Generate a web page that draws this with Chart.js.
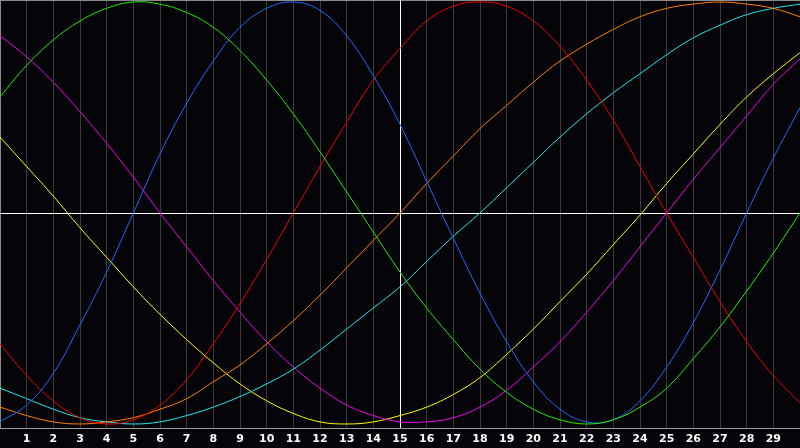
<!DOCTYPE html>
<html>
<head>
<meta charset="utf-8">
<script src="https://cdn.jsdelivr.net/npm/chart.js@4/dist/chart.umd.min.js"></script>
<style>
  html, body { margin: 0; padding: 0; background: #040408; }
  #wrap { width: 800px; height: 448px; position: relative; }
</style>
</head>
<body>
<div id="wrap"><canvas id="c" width="800" height="448"></canvas></div>
<script>
const xValues = [0,1,2,3,4,5,6,7,8,9,10,11,12,13,14,15,16,17,18,19,20,21,22,23,24,25,26,27,28,29,30];
const tickLabels = ['1','2','3','4','5','6','7','8','9','10','11','12','13','14','15','16','17','18','19','20','21','22','23','24','25','26','27','28','29'];
const centerX = 15;
const centerY = 0;

const greenSeries   = [0.55,0.70,0.82,0.91,0.97,1.00,0.99,0.95,0.88,0.77,0.63,0.47,0.29,0.10,-0.09,-0.28,-0.45,-0.60,-0.74,-0.85,-0.93,-0.98,-1.00,-0.98,-0.92,-0.83,-0.69,-0.54,-0.37,-0.19,0.00];
const blueSeries    = [-0.99,-0.91,-0.76,-0.53,-0.28,0.00,0.28,0.52,0.72,0.88,0.97,1.00,0.96,0.84,0.65,0.42,0.15,-0.12,-0.38,-0.61,-0.80,-0.93,-0.99,-0.98,-0.89,-0.73,-0.52,-0.27,0.00,0.26,0.50];
const redSeries     = [-0.62,-0.77,-0.89,-0.97,-1.00,-0.98,-0.91,-0.79,-0.62,-0.43,-0.22,0.00,0.22,0.43,0.63,0.78,0.91,0.98,1.00,0.98,0.91,0.79,0.63,0.44,0.22,0.00,-0.21,-0.42,-0.61,-0.77,-0.90];
const orangeSeries  = [-0.92,-0.96,-0.99,-1.00,-0.99,-0.97,-0.93,-0.88,-0.80,-0.72,-0.62,-0.51,-0.39,-0.26,-0.13,0.00,0.14,0.27,0.40,0.51,0.62,0.72,0.80,0.87,0.93,0.97,0.99,1.00,0.99,0.97,0.93];
const cyanSeries    = [-0.83,-0.88,-0.93,-0.97,-0.99,-1.00,-0.99,-0.96,-0.92,-0.87,-0.81,-0.74,-0.65,-0.55,-0.45,-0.35,-0.23,-0.11,0.00,0.12,0.24,0.36,0.47,0.57,0.66,0.75,0.83,0.89,0.94,0.97,0.99];
const magentaSeries = [0.84,0.74,0.62,0.48,0.33,0.17,0.00,-0.16,-0.32,-0.47,-0.61,-0.73,-0.83,-0.91,-0.96,-0.99,-0.99,-0.97,-0.92,-0.84,-0.73,-0.61,-0.47,-0.32,-0.16,0.00,0.16,0.31,0.46,0.61,0.73];
const yellowSeries  = [0.36,0.22,0.08,-0.07,-0.21,-0.35,-0.48,-0.60,-0.71,-0.81,-0.89,-0.95,-0.99,-1.00,-0.99,-0.96,-0.92,-0.86,-0.78,-0.67,-0.55,-0.42,-0.29,-0.15,-0.01,0.14,0.28,0.42,0.55,0.66,0.76];

const seriesList = [
  { name: 'green',   values: greenSeries,   color: '#22ee00' },
  { name: 'blue',    values: blueSeries,    color: '#1a6cff' },
  { name: 'red',     values: redSeries,     color: '#ee0000' },
  { name: 'orange',  values: orangeSeries,  color: '#ff8000' },
  { name: 'cyan',    values: cyanSeries,    color: '#22e8e8' },
  { name: 'magenta', values: magentaSeries, color: '#ee00ee' },
  { name: 'yellow',  values: yellowSeries,  color: '#ffff00' }
];

const datasets = seriesList.map(s => ({
  label: s.name,
  data: xValues.map((x, i) => ({ x: x, y: s.values[i] })),
  borderColor: s.color,
  backgroundColor: s.color,
  borderWidth: 1,
  pointRadius: 0,
  tension: 0.4,
  fill: false
}));

const bgPlugin = {
  id: 'bg',
  beforeDraw(chart) {
    const ctx = chart.ctx;
    ctx.save();
    ctx.fillStyle = '#040408';
    ctx.fillRect(0, 0, chart.width, chart.height);
    ctx.restore();
  },
  beforeDatasetsDraw(chart) {
    const { ctx, chartArea: a, scales } = chart;
    ctx.save();
    ctx.lineWidth = 1;
    ctx.strokeStyle = '#8a8a8a';
    ctx.beginPath();
    ctx.moveTo(a.left, a.top + 0.5); ctx.lineTo(a.right, a.top + 0.5);
    ctx.moveTo(a.left + 0.5, a.top); ctx.lineTo(a.left + 0.5, a.bottom);
    ctx.stroke();
    const px = Math.round(scales.x.getPixelForValue(centerX)) + 0.5;
    const py = Math.round(scales.y.getPixelForValue(centerY)) + 0.5;
    ctx.strokeStyle = '#ffffff';
    ctx.beginPath();
    ctx.moveTo(a.left, py); ctx.lineTo(a.right, py);
    ctx.moveTo(px, a.top); ctx.lineTo(px, a.bottom);
    ctx.stroke();
    ctx.restore();
  }
};

new Chart(document.getElementById('c'), {
  type: 'line',
  data: { datasets },
  plugins: [bgPlugin],
  options: {
    responsive: false,
    animation: false,
    devicePixelRatio: 1,
    layout: { padding: 0 },
    plugins: { legend: { display: false }, tooltip: { enabled: false } },
    scales: {
      x: {
        type: 'linear',
        min: 0, max: 30,
        afterFit: (scale) => { scale.paddingLeft = 0; scale.paddingRight = 0; scale.height = 20; },
        ticks: {
          stepSize: 1,
          autoSkip: false,
          maxRotation: 0,
          color: '#ffffff',
          padding: 5,
          font: { family: 'DejaVu Sans', size: 11, weight: 'bold' },
          callback: (v) => (v >= 1 && v <= 29) ? tickLabels[v - 1] : ''
        },
        grid: {
          drawTicks: false,
          lineWidth: 1,
          color: (c) => (c.tick && (c.tick.value === 0 || c.tick.value === 30 || c.tick.value === centerX)) ? 'rgba(0,0,0,0)' : '#3a3a3a'
        },
        border: { display: true, color: '#9a9a9a', width: 1 }
      },
      y: {
        display: false,
        type: 'linear',
        min: -1.019, max: 1.0095
      }
    }
  }
});
</script>
</body>
</html>
